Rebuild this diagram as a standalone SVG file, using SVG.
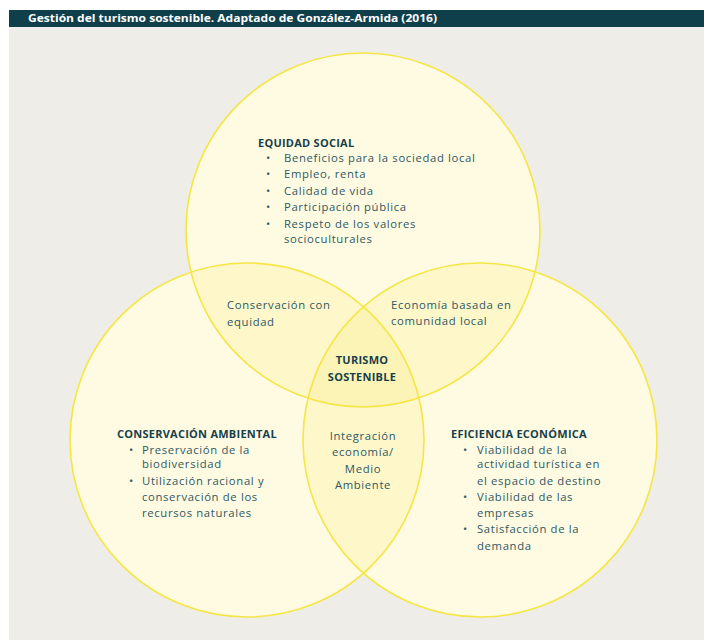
<svg xmlns="http://www.w3.org/2000/svg" width="704" height="640" viewBox="0 0 704 640">
<style>
.base{fill:#ffffff;stroke:none}
.tint{fill:rgb(250,235,110);fill-opacity:0.2;stroke:none}
.ring{fill:none;stroke:#f5e645;stroke-width:1.6}
text{font-family:"Open Sans","Noto Sans","DejaVu Sans",sans-serif;font-size:11.3px;letter-spacing:0.65px;fill:#2e5863}
.h{font-weight:700;fill:#173f4b;font-size:11px;letter-spacing:0.25px}
.c{text-anchor:middle}
.title{font-weight:700;fill:#ffffff;font-size:10.5px;letter-spacing:0}
</style>
<rect x="0" y="0" width="704" height="640" fill="#ffffff"/>
<rect x="9" y="27" width="695" height="613" fill="#efede7"/>
<rect x="9" y="10" width="695" height="17" fill="#0f3f4b"/>
<text class="title" x="28" y="22" textLength="409" lengthAdjust="spacingAndGlyphs">Gestión del turismo sostenible. Adaptado de González-Armida (2016)</text>
<g id="circles">
<circle class="base" cx="363" cy="230" r="177"/>
<circle class="base" cx="247" cy="440" r="177"/>
<circle class="base" cx="480" cy="440" r="177"/>
<circle class="tint" cx="363" cy="230" r="177"/>
<circle class="tint" cx="247" cy="440" r="177"/>
<circle class="tint" cx="480" cy="440" r="177"/>
<circle class="ring" cx="363" cy="230" r="177"/>
<circle class="ring" cx="247" cy="440" r="177"/>
<circle class="ring" cx="480" cy="440" r="177"/>
</g>
<g id="equidad-social">
<text class="h" x="258" y="147">EQUIDAD SOCIAL</text>
<text x="266" y="162">•</text><text x="284" y="162">Beneficios para la sociedad local</text>
<text x="266" y="178">•</text><text x="284" y="178">Empleo, renta</text>
<text x="266" y="195">•</text><text x="284" y="195">Calidad de vida</text>
<text x="266" y="211">•</text><text x="284" y="211">Participación pública</text>
<text x="266" y="228">•</text><text x="284" y="228">Respeto de los valores</text>
<text x="284" y="243">socioculturales</text>
</g>
<g id="conservacion-ambiental">
<text class="h" x="117" y="438">CONSERVACIÓN AMBIENTAL</text>
<text x="129" y="454">•</text><text x="142" y="454">Preservación de la</text>
<text x="142" y="468">biodiversidad</text>
<text x="129" y="485">•</text><text x="142" y="485">Utilización racional y</text>
<text x="142" y="501">conservación de los</text>
<text x="142" y="517">recursos naturales</text>
</g>
<g id="eficiencia-economica">
<text class="h" x="451" y="438">EFICIENCIA ECONÓMICA</text>
<text x="463" y="454">•</text><text x="477" y="454">Viabilidad de la</text>
<text x="477" y="468">actividad turística en</text>
<text x="477" y="485">el espacio de destino</text>
<text x="463" y="501">•</text><text x="477" y="501">Viabilidad de las</text>
<text x="477" y="517">empresas</text>
<text x="463" y="533">•</text><text x="477" y="533">Satisfacción de la</text>
<text x="477" y="550">demanda</text>
</g>
<g id="conservacion-equidad">
<text x="227" y="309">Conservación con</text>
<text x="227" y="326">equidad</text>
</g>
<g id="economia-local">
<text x="391" y="309">Economía basada en</text>
<text x="391" y="325">comunidad local</text>
</g>
<g id="turismo-sostenible">
<text class="h c" x="362" y="364">TURISMO</text>
<text class="h c" x="362" y="381">SOSTENIBLE</text>
</g>
<g id="integracion">
<text class="c" x="363" y="440">Integración</text>
<text class="c" x="363" y="456">economía/</text>
<text class="c" x="363" y="473">Medio</text>
<text class="c" x="363" y="489">Ambiente</text>
</g>
<g id="connectors"></g>
</svg>
